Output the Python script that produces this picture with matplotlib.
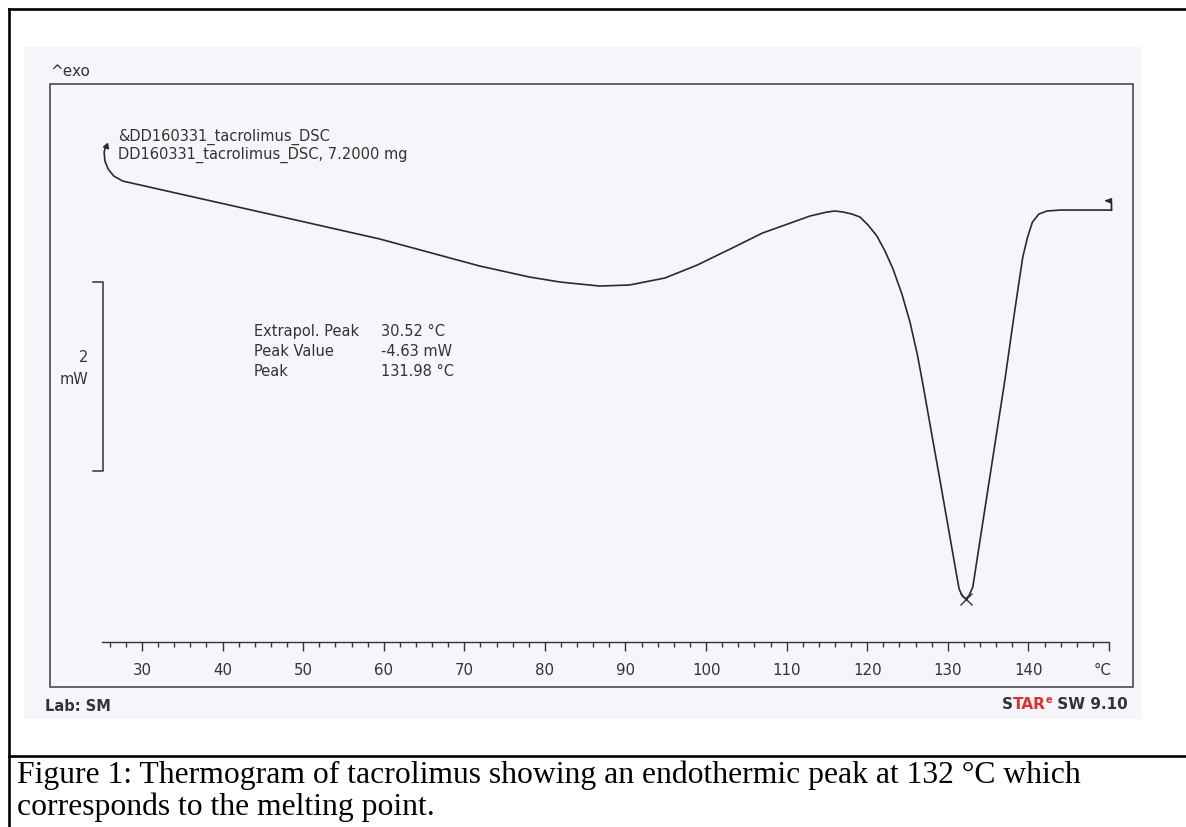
import matplotlib
matplotlib.use('Agg')
import matplotlib.pyplot as plt
import numpy as np
from matplotlib.patches import Rectangle
from matplotlib.lines import Line2D
from matplotlib.path import Path
from matplotlib.markers import MarkerStyle
from matplotlib.transforms import blended_transform_factory, ScaledTranslation

# ---------------- data ----------------
temperature_c = [25.5, 25.3, 25.4, 25.8, 26.5, 27.6, 40.0, 50.0, 59.5, 65.7, 71.9,
                 78.1, 81.9, 86.8, 90.5, 94.9, 98.9, 103.0, 107.0, 110.8, 112.9,
                 115.0, 116.0, 117.0, 118.1, 119.1, 120.1, 121.2, 122.2, 123.2,
                 124.3, 125.3, 126.2, 126.9, 128.0, 129.0, 130.0, 131.0, 131.4,
                 131.8, 132.2, 132.6, 133.1, 134.0, 135.0, 136.0, 137.1, 138.1,
                 138.7, 139.3, 139.9, 140.5, 141.3, 142.3, 144.0, 150.3]
heat_flow_mw = [0.212, 0.148, 0.053, -0.032, -0.106, -0.159, -0.397, -0.589, -0.772,
                -0.915, -1.058, -1.175, -1.228, -1.270, -1.259, -1.185, -1.048,
                -0.878, -0.709, -0.593, -0.529, -0.487, -0.476, -0.487, -0.508,
                -0.540, -0.624, -0.741, -0.899, -1.090, -1.354, -1.651, -1.989,
                -2.307, -2.836, -3.312, -3.799, -4.286, -4.476, -4.550, -4.582,
                -4.550, -4.455, -3.958, -3.407, -2.857, -2.254, -1.651, -1.302,
                -0.963, -0.751, -0.593, -0.508, -0.476, -0.466, -0.466]
major_ticks = [30, 40, 50, 60, 70, 80, 90, 100, 110, 120, 130, 140, 150]
tick_labels = ['30', '40', '50', '60', '70', '80', '90', '100', '110', '120',
               '130', '140', '°C']
minor_ticks = list(range(26, 150, 2))
scale_bar_mw = 2
annotation_labels = ['Extrapol. Peak', 'Peak Value', 'Peak']
annotation_values = ['30.52 °C', '-4.63 mW', '131.98 °C']
header_lines = ['&DD160331_tacrolimus_DSC', 'DD160331_tacrolimus_DSC, 7.2000 mg']
caption_lines = ['Figure 1: Thermogram of tacrolimus showing an endothermic peak at 132 °C which',
                 'corresponds to the melting point.']

# ---------------- layout ----------------
W, H = 1186, 828
fig = plt.figure(figsize=(W / 100, H / 100), dpi=100)
fig.patch.set_facecolor('white')


def fx(x):
    return x / W


def fy(y):
    return 1 - y / H


ink = '#333333'

# scanned panel background
fig.patches.append(Rectangle((fx(24), fy(720)), fx(1142) - fx(24), fy(48) - fy(720),
                             transform=fig.transFigure, facecolor='#f6f5f9',
                             edgecolor='none', zorder=-2))
# plot frame
fig.patches.append(Rectangle((fx(50), fy(688)), fx(1133) - fx(50), fy(85) - fy(688),
                             transform=fig.transFigure, facecolor='none',
                             edgecolor='#3c3c3c', linewidth=1.1, zorder=-1))
# outer document border and caption separator
for xs, ys in [([9, 9], [10, 828]), ([9, 1186], [10, 10]), ([9, 1186], [757, 757])]:
    fig.add_artist(Line2D([fx(v) for v in xs], [fy(v) for v in ys],
                          transform=fig.transFigure, color='black', linewidth=1.9))

# main axes: bottom spine is the temperature ruler
ax = fig.add_axes([fx(101.7), fy(643), (1109 - 101.7) / W, (643 - 85) / H])
ax.set_zorder(3)
ax.patch.set_alpha(0)
for s in ['top', 'right', 'left']:
    ax.spines[s].set_visible(False)
ax.spines['bottom'].set_color(ink)
ax.spines['bottom'].set_linewidth(1.0)
ax.set_xlim(25, 150)
ax.set_ylim(-5.037, 0.868)
ax.set_yticks([])
ax.set_xticks(major_ticks)
ax.set_xticklabels(tick_labels)
ax.set_xticks(minor_ticks, minor=True)
ax.tick_params(axis='x', which='major', length=6.5, width=1.0, color=ink,
               direction='out', pad=8, labelsize=10.8, labelcolor=ink)
ax.tick_params(axis='x', which='minor', length=3.8, width=1.0, color=ink,
               direction='out')
# the unit label sits a little left of the final tick
last_lab = ax.get_xticklabels()[-1]
last_lab.set_transform(last_lab.get_transform() + ScaledTranslation(-6 / 100, 0, fig.dpi_scale_trans))

# curve
ax.plot(temperature_c, heat_flow_mw, color='#2a2a2a', linewidth=1.2,
        clip_on=False, solid_joinstyle='round')

# peak cross
ipk = int(np.argmin(heat_flow_mw))
ax.plot(temperature_c[ipk], heat_flow_mw[ipk], marker='x', markersize=9,
        markeredgewidth=1.0, color=ink, clip_on=False)

# start / end flags
flag_path = Path([(0, 0), (0, 1.0), (-0.5, 0.82), (0, 0.64), (0, 0)],
                 [Path.MOVETO, Path.LINETO, Path.LINETO, Path.LINETO, Path.CLOSEPOLY])
ax.plot(temperature_c[-1], heat_flow_mw[-1], marker=MarkerStyle(flag_path),
        markersize=17, color='#2a2a2a', markeredgewidth=1.0, clip_on=False)
ax.plot(temperature_c[0], heat_flow_mw[0], marker=(3, 0, -20), markersize=4.5,
        color='#2a2a2a', clip_on=False)

# 2 mW scale bar
sb = blended_transform_factory(fig.transFigure, ax.transData)
sb_bottom = -3.23
ax.plot([fx(93), fx(103), fx(103), fx(93)],
        [sb_bottom, sb_bottom, sb_bottom + scale_bar_mw, sb_bottom + scale_bar_mw],
        transform=sb, color=ink, linewidth=1.1, clip_on=False)
fig.text(fx(88), fy(358), str(scale_bar_mw), ha='right', va='center', fontsize=10.5, color=ink)
fig.text(fx(88), fy(380), 'mW', ha='right', va='center', fontsize=10.5, color=ink)

# texts
fig.text(fx(50), fy(72), '^exo', ha='left', va='center', fontsize=11, color=ink)
for i, line in enumerate(header_lines):
    fig.text(fx(118), fy(137 + 18 * i), line, ha='left', va='center',
             fontsize=10.5, color=ink)
for i, (lab, val) in enumerate(zip(annotation_labels, annotation_values)):
    yy = 332 + 20 * i
    fig.text(fx(254), fy(yy), lab, ha='left', va='center', fontsize=10.5, color=ink)
    fig.text(fx(381), fy(yy), val, ha='left', va='center', fontsize=10.5, color=ink)

fig.text(fx(45), fy(707), 'Lab: SM', ha='left', va='center', fontsize=10.5,
         fontweight='bold', color=ink)

# STARe SW 9.10 logo, built right-to-left
renderer = fig.canvas.get_renderer()
x_right = 1128
parts = [(' SW 9.10', ink, 11, 0), ('e', '#d9312f', 7, 5), ('TAR', '#d9312f', 11, 0), ('S', ink, 11, 0)]
for txt, col, fs, dy in parts:
    t = fig.text(fx(x_right), fy(705 - dy), txt, ha='right', va='center', fontsize=fs,
                 fontweight='bold', color=col)
    bb = t.get_window_extent(renderer=renderer)
    x_right -= bb.width

# caption
for i, line in enumerate(caption_lines):
    fig.text(fx(17), fy(775 + 32 * i), line, ha='left', va='center',
             fontsize=22.8, family='Liberation Serif', color='black')

fig.savefig('out.png', dpi=100)
